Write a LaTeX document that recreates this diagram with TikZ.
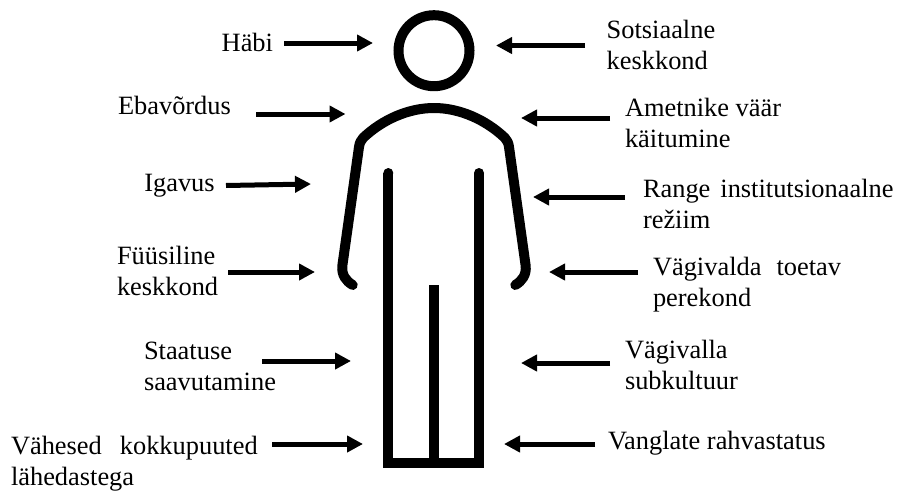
\documentclass[tikz,border=0pt]{standalone}
\usepackage{fontspec}
\setmainfont{Liberation Serif}
\usetikzlibrary{arrows.meta}
\tikzset{
  lab/.style={inner sep=0pt,outer sep=0pt,anchor=base west,align=left,font=\fontsize{26.4}{30.5}\selectfont},
  arr/.style={line width=5pt,-{Triangle[length=16pt,width=16pt]}},
  fig/.style={line width=10pt,line cap=round,line join=round},
  figflat/.style={line width=10pt,line cap=butt,line join=miter}
}
\begin{document}
\begin{tikzpicture}[x=1pt,y=-1pt]
\useasboundingbox (0,0) rectangle (899,490);
% figure
\draw[line width=10pt] (434,50.7) circle (35.5);
\draw[fig] (352.7,285) .. controls (346,281) and (341.5,275) .. (342.3,266)
  -- (359,147) .. controls (359.5,143) and (361,140) .. (363.3,137.7)
  .. controls (382,120) and (408,108) .. (434,108)
  .. controls (460,108) and (486,120) .. (504.7,137.7)
  .. controls (507,140) and (508.5,143) .. (509,147)
  -- (525.7,266) .. controls (526.5,275) and (522,281) .. (515.3,285);
\fill (388.3,173) circle (5);
\fill (479,173) circle (5);
\draw[figflat] (388.3,173) -- (388.3,463) -- (479,463) -- (479,173);
\draw[figflat] (434,285) -- (434,463);
% labels
\node[lab] (habi) at (221.7,51) {Häbi};
\node[lab] (sots) at (606.7,69) {Sotsiaalne\\keskkond};
\node[lab] (eba) at (118,114) {Ebavõrdus};
\node[lab] (amet) at (625,147) {Ametnike väär\\käitumine};
\node[lab] (iga) at (144.3,191) {Igavus};
\node[lab] (range) at (643,228) {Range\hspace{10pt}institutsionaalne\\režiim};
\node[lab] (fyys) at (117,295) {Füüsiline\\keskkond};
\node[lab] (vagi) at (653,306) {Vägivalda\hspace{15pt}toetav\\perekond};
\node[lab] (staa) at (144,390) {Staatuse\\saavutamine};
\node[lab] (subk) at (625,389) {Vägivalla\\subkultuur};
\node[lab] (vahe) at (11,485) {Vähesed\hspace{18pt}kokkupuuted\\lähedastega};
\node[lab] (vang) at (608,449) {Vanglate rahvastatus};
% arrow ends
\coordinate (a1) at (284,43);  \coordinate (b1) at (373,43);
\coordinate (a2) at (585,45.5);  \coordinate (b2) at (496,45.5);
\coordinate (a3) at (256,114); \coordinate (b3) at (345.5,114);
\coordinate (a4) at (610,118); \coordinate (b4) at (521,118);
\coordinate (a5) at (226,185.5); \coordinate (b5) at (311,184);
\coordinate (a6) at (625,197); \coordinate (b6) at (533,197);
\coordinate (a7) at (228,272); \coordinate (b7) at (315,272);
\coordinate (a8) at (638,272); \coordinate (b8) at (549,272);
\coordinate (a9) at (262,361); \coordinate (b9) at (351,361);
\coordinate (a10) at (610,363); \coordinate (b10) at (521,363);
\coordinate (a11) at (272,444); \coordinate (b11) at (363,444);
\coordinate (a12) at (595,444); \coordinate (b12) at (504,444);
\foreach \i in {1,...,12} \draw[arr] (a\i) -- (b\i);
\end{tikzpicture}
\end{document}
